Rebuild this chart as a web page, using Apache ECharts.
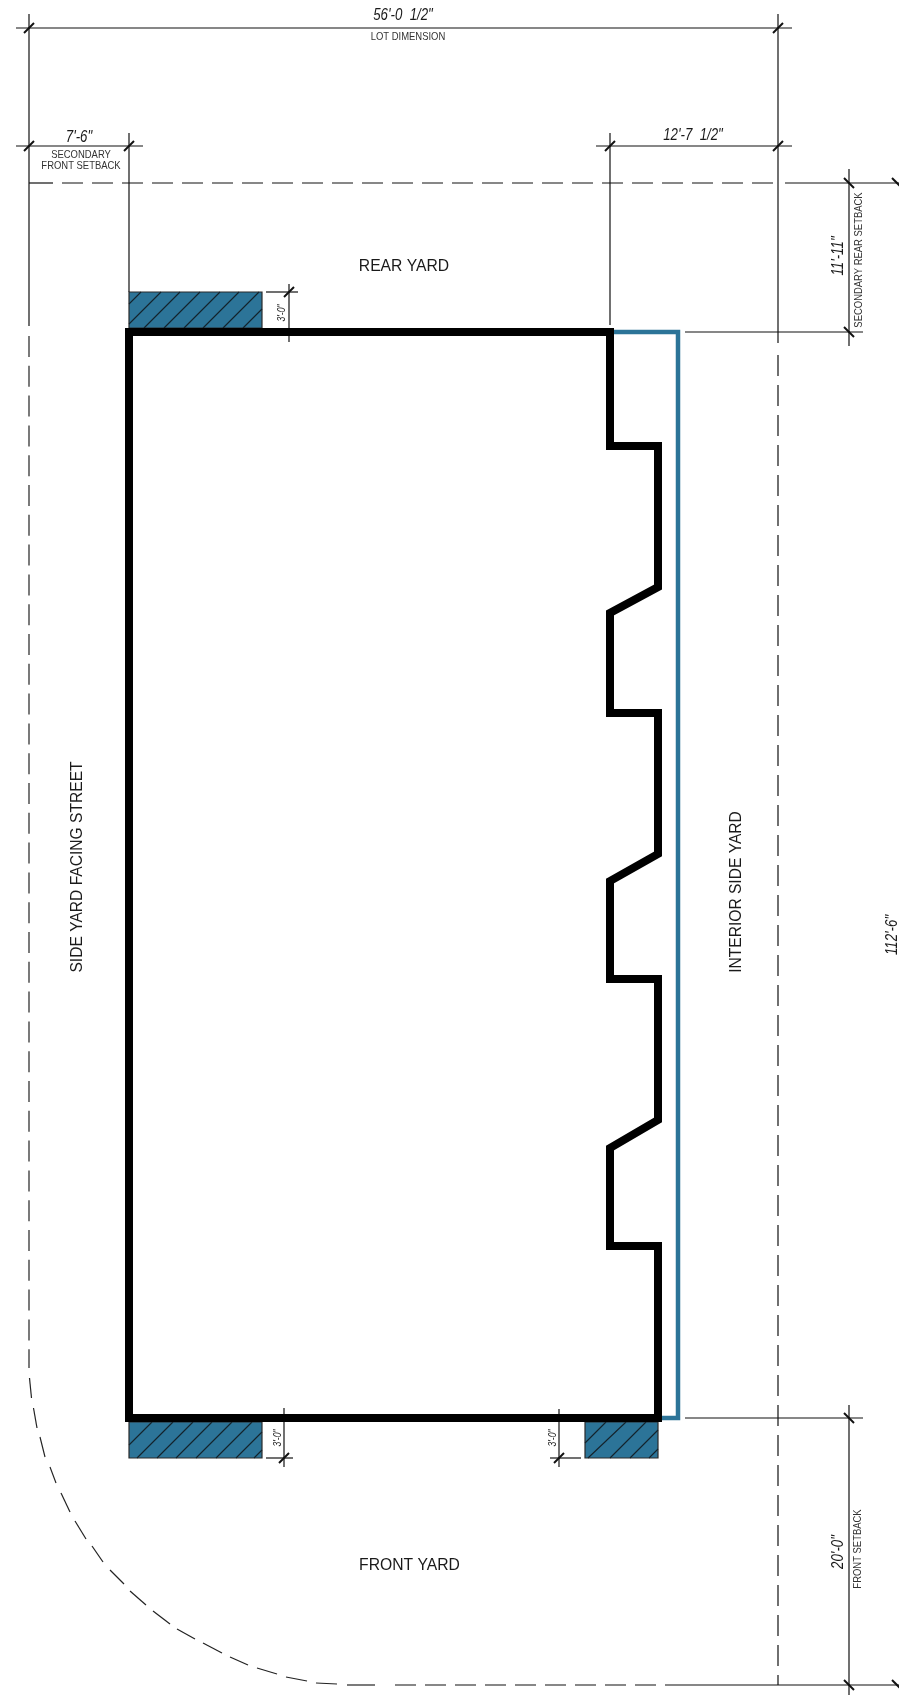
<!DOCTYPE html>
<html>
<head>
<meta charset="utf-8">
<style>html,body{margin:0;padding:0;background:#fff}#c{width:899px;height:1695px}</style>
<script src="https://cdn.jsdelivr.net/npm/echarts@6/dist/echarts.min.js"></script>
</head>
<body>
<div id="c"></div>
<script>
// Plan, in drawing units
const wallPath = [[129,332],[610,332],[610,446],[658,446],[658,587],[610,613],[610,713],[658,713],[658,854],[610,881],[610,979],[658,979],[658,1120],[610,1148],[610,1246],[658,1246],[658,1418],[129,1418],[129,332]];
const envelopePath = [[612,332],[678,332],[678,1418],[660,1418]];
const setbackRects = [[129,292,262,328],[129,1422,262,1458],[585,1422,658,1458]];
const hatchSegments = [
  [141,292,129,304],[161,292,129,324],[180,292,144,328],[200,292,164,328],[220,292,184,328],[239,292,203,328],[259,292,223,328],[262,309,243,328],
  [129,1445,152,1422],[137,1458,173,1422],[157,1458,193,1422],[176,1458,212,1422],[196,1458,232,1422],[216,1458,252,1422],[236,1458,262,1432],[254,1458,262,1450],
  [585,1443,606,1422],[588,1458,626,1422],[610,1458,646,1422],[630,1458,658,1430],[649,1458,658,1449]
];
const dimSegments = [
  [16,28,792,28],[29,14,29,326],[778,14,778,343],
  [16,146,143,146],[129,133,129,292],
  [596,146,792,146],[610,133,610,325],
  [29,183,53,183],[785,183,899,183],
  [849,169,849,346],[685,332,863,332],
  [266,292,298,292],[289,284,289,342],
  [266,1458,293,1458],[284,1408,284,1467],
  [550,1458,581,1458],[559,1409,559,1467],
  [685,1418,863,1418],[849,1405,849,1695],[667,1685,899,1685],[778,1675,778,1685]
];
const dashedSegments = [
  [[62,183],[778,183]],
  [[778,355],[778,1675]],
  [[395,1685],[667,1685]]
];
const lotLeftEdge = [[29,336],[29,1368]];
const lotCornerDashes = [
  [29.5,1378,31.5,1398],[33.5,1408,37,1428],[40,1437,45,1457],[50,1467,56,1483],[61,1493,70,1512],[75,1521,86,1539],
  [92,1546,103,1562],[110,1570,124,1584],[130,1591,146,1605],[153,1611,170,1624],[177,1629,195,1639],[203,1643,222,1653],
  [230,1657,248,1665],[257,1668,277,1674],[286,1677,307,1681],[316,1683,337,1684],[347,1685,375,1685]
];
const ticksForward = [[29,28],[778,28],[29,146],[129,146],[610,146],[778,146],[289,292],[284,1458],[559,1458]];
const ticksBack = [[849,183],[897,183],[849,332],[849,1418],[849,1685],[897,1685]];
const dimTexts = [
  ['56\'-0  1/2"',403,15,0,17],['7\'-6"',79,137,0,17],['12\'-7  1/2"',693,135,0,17],
  ['11\'-11"',838,256,90,17],['20\'-0"',838,1552,90,17],['112\'-6"',892,935,90,17],
  ['3\'-0"',282,313,90,11],['3\'-0"',278,1438,90,11],['3\'-0"',553,1438,90,11]
];
const noteTexts = [
  ['LOT DIMENSION',408,37.5,0,10.5],['SECONDARY',81,155,0,10.5],['FRONT SETBACK',81,166,0,10.5],
  ['SECONDARY REAR SETBACK',859,260,90,10.5],['FRONT SETBACK',858,1549,90,10.5]
];
const zoneTexts = [
  ['REAR YARD',404,267,0,15.7],['FRONT YARD',409.5,1566,0,15.7],
  ['SIDE YARD FACING STREET',77.5,867,90,15.6],['INTERIOR SIDE YARD',736.5,892,90,15.6]
];

const INK = '#111';
const BLUE = '#2c7498';

function segSeries(data, width, color, z) {
  return {
    type: 'custom', data, z, clip: false, silent: true,
    encode: {x: [0, 2], y: [1, 3]},
    renderItem(p, api) {
      const a = api.coord([api.value(0), api.value(1)]);
      const b = api.coord([api.value(2), api.value(3)]);
      return {type: 'line', shape: {x1: a[0], y1: a[1], x2: b[0], y2: b[1]},
        style: {stroke: color, lineWidth: width, fill: null}};
    }
  };
}
function tickSeries(data, dir) {
  return {
    type: 'custom', data, z: 6, clip: false, silent: true,
    encode: {x: 0, y: 1},
    renderItem(p, api) {
      const c = api.coord([api.value(0), api.value(1)]);
      return {type: 'line', shape: {x1: c[0]-5, y1: c[1]-5*dir, x2: c[0]+5, y2: c[1]+5*dir},
        style: {stroke: '#111', lineWidth: 2, fill: null}};
    }
  };
}
function pathSeries(data, color, width, extra) {
  return Object.assign({
    type: 'line', data, showSymbol: false, symbol: 'none', clip: false, silent: true,
    lineStyle: Object.assign({color, width, join: 'miter', cap: 'butt'}, extra && extra.ls)
  }, extra && extra.s);
}
function textSeries(rows, font, fontStyle, color, squeeze) {
  return {
    type: 'custom', data: rows.map(r => [r[1], r[2], r[3], r[4]]), z: 8, clip: false, silent: true,
    encode: {x: 0, y: 1},
    renderItem(p, api) {
      const c = api.coord([api.value(0), api.value(1)]);
      return {type: 'text', x: c[0], y: c[1], rotation: api.value(2) * Math.PI / 180,
        scaleX: squeeze, scaleY: 1,
        style: {text: rows[p.dataIndex][0], fill: color, align: 'center', verticalAlign: 'middle',
          fontFamily: font, fontStyle, fontSize: api.value(3)}};
    }
  };
}

const chart = echarts.init(document.getElementById('c'), null, {renderer: 'canvas'});
chart.setOption({
  animation: false,
  backgroundColor: '#ffffff',
  grid: {left: 0, right: 0, top: 0, bottom: 0},
  xAxis: {type: 'value', min: 0, max: 899, show: false},
  yAxis: {type: 'value', min: 0, max: 1695, inverse: true, show: false},
  series: [
    {
      type: 'custom', data: setbackRects, z: 2, clip: false, silent: true,
      encode: {x: [0, 2], y: [1, 3]},
      renderItem(p, api) {
        const a = api.coord([api.value(0), api.value(1)]);
        const b = api.coord([api.value(2), api.value(3)]);
        return {type: 'rect', shape: {x: a[0], y: a[1], width: b[0]-a[0], height: b[1]-a[1]},
          style: {fill: BLUE, stroke: '#2a2a2a', lineWidth: 1.2}};
      }
    },
    segSeries(hatchSegments, 1.1, '#14222b', 3),
    segSeries(dimSegments, 1.2, INK, 4),
    ...dashedSegments.map(d => pathSeries(d, INK, 1.2, {ls: {type: [21, 9]}, s: {z: 4}})),
    pathSeries(lotLeftEdge, '#222', 1.2, {ls: {type: [21, 8.8]}, s: {z: 4}}),
    segSeries(lotCornerDashes, 1.2, '#222', 4),
    tickSeries(ticksForward, -1),
    tickSeries(ticksBack, 1),
    pathSeries(envelopePath, BLUE, 4.5, {s: {z: 5}}),
    pathSeries(wallPath, '#000', 8, {ls: {cap: 'square'}, s: {z: 6}}),
    textSeries(dimTexts, '"Liberation Sans"', 'italic', '#1a1a1a', 0.78),
    textSeries(noteTexts, '"Liberation Sans"', 'normal', '#333', 0.9),
    textSeries(zoneTexts, '"Liberation Sans"', 'normal', '#1a1a1a', 1)
  ]
});
</script>
</body>
</html>
